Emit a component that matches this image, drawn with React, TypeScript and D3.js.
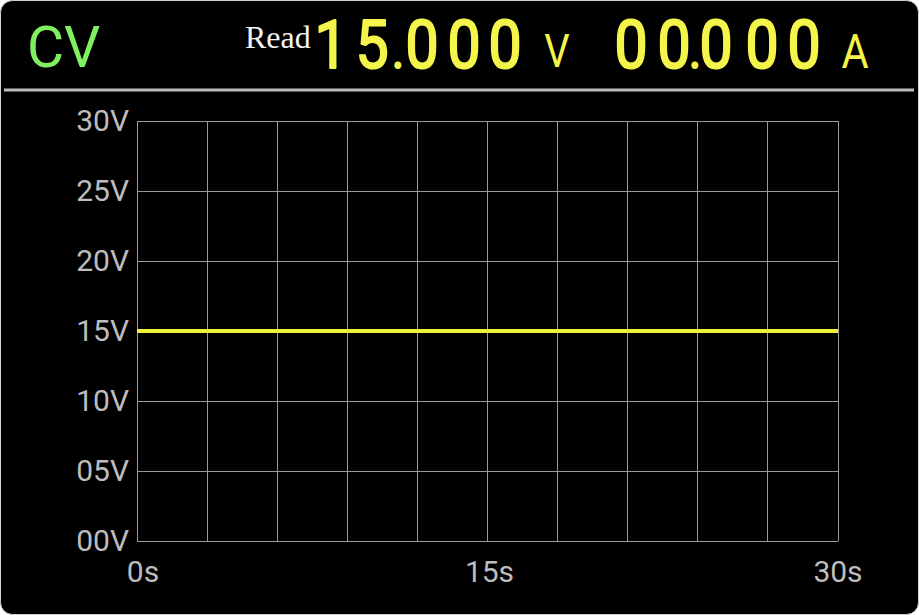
import { scaleLinear, line as d3Line } from "d3";

// readout header
const modeLabel = "CV";
const readLabel = "Read";
const readVoltage = "15.000";
const readCurrent = "00.000";

// trace samples (seconds, volts)
const sampleTimes = [0, 5, 10, 15, 20, 25, 30];
const sampleVolts = [15, 15, 15, 15, 15, 15, 15];

// axes
const xGridTicks = [0, 3, 6, 9, 12, 15, 18, 21, 24, 27, 30];
const xLabelTicks = [0, 15, 30];
const xTickLabels = ["0s", "15s", "30s"];
const yTicks = [0, 5, 10, 15, 20, 25, 30];
const yTickLabels = ["00V", "05V", "10V", "15V", "20V", "25V", "30V"];

const W = 919;
const H = 615;
const margin = { top: 121, right: 81, bottom: 74, left: 137 };

const gridColor = "#9a9a9a";
const labelColor = "#bdbdbd";
const yellow = "#f4f44a";
const traceColor = "#f0f03a";
const green = "#80f060";

// centres of each glyph of the segment readouts
const voltCentres = [331, 372, 398, 422, 464, 505];
const ampCentres = [631, 674, 695, 716, 762, 804];

function Readout({ value, centres }: { value: string; centres: number[] }) {
  const base = 69;
  return (
    <text
      fill={yellow}
      stroke={yellow}
      strokeWidth={1.8}
      strokeLinejoin="round"
      fontFamily="Roboto, sans-serif"
      fontSize={59}
      textAnchor="middle"
      y={base - 1}
      transform={`translate(0 ${base}) scale(1 1.13) translate(0 ${-base})`}
    >
      {value.split("").map((ch, i) => (
        <tspan key={i} x={centres[i]} fontSize={ch === "." ? 32 : undefined} fontWeight={ch === "." ? 700 : undefined}>
          {ch}
        </tspan>
      ))}
    </text>
  );
}

export default function App() {
  const x = scaleLinear().domain([0, 30]).range([margin.left, W - margin.right]);
  const y = scaleLinear().domain([0, 30]).range([H - margin.bottom, margin.top]);
  const trace = d3Line<number>()
    .x((_, i) => x(sampleTimes[i]))
    .y((d) => y(d));

  const [x0, x1] = x.range();
  const [y0, y1] = y.range();

  return (
    <svg
      width={W}
      height={H}
      viewBox={`0 0 ${W} ${H}`}
      style={{ position: "absolute", left: 0, top: 0, display: "block" }}
    >
      <rect width={W} height={H} fill="#fff" />
      <rect x={0.5} y={0.5} width={W - 1} height={H - 1} rx={12} fill="#000" stroke="#d0d0d0" strokeWidth={1} />

      {/* header */}
      <text x={27} y={67} fill={green} fontFamily="Roboto, sans-serif" fontSize={57}>
        {modeLabel}
      </text>
      <text x={245} y={48} fill="#f4f4f4" fontFamily="'Liberation Serif', serif" fontSize={32}>
        {readLabel}
      </text>
      <Readout value={readVoltage} centres={voltCentres} />
      <text
        x={557}
        y={67}
        fill={yellow}
        fontFamily="Roboto, sans-serif"
        fontSize={47}
        textAnchor="middle"
        transform="translate(557 0) scale(0.85 1) translate(-557 0)"
      >
        V
      </text>
      <Readout value={readCurrent} centres={ampCentres} />
      <text
        x={855}
        y={68}
        fill={yellow}
        fontFamily="Roboto, sans-serif"
        fontSize={49}
        textAnchor="middle"
        transform="translate(855 0) scale(0.85 1) translate(-855 0)"
      >
        A
      </text>
      <line x1={4} x2={914} y1={90} y2={90} stroke="#bcbcbc" strokeWidth={3} />

      {/* grid */}
      <g stroke={gridColor} strokeWidth={1} shapeRendering="crispEdges">
        {xGridTicks.map((t) => (
          <line key={`x${t}`} x1={x(t)} x2={x(t)} y1={y0} y2={y1} />
        ))}
        {yTicks.map((t) => (
          <line key={`y${t}`} x1={x0} x2={x1} y1={y(t)} y2={y(t)} />
        ))}
      </g>

      {/* y labels */}
      <g fill={labelColor} fontFamily="Roboto, sans-serif" fontSize={30} textAnchor="end">
        {yTicks.map((t, i) => (
          <text key={t} x={x0 - 8} y={y(t) + 10}>
            {yTickLabels[i]}
          </text>
        ))}
      </g>

      {/* x labels */}
      <g fill={labelColor} fontFamily="Roboto, sans-serif" fontSize={30} textAnchor="middle">
        {xLabelTicks.map((t, i) => (
          <text key={t} x={x(t) + (i === 0 ? 6 : i === 1 ? 2 : 0)} y={582}>
            {xTickLabels[i]}
          </text>
        ))}
      </g>

      <path d={trace(sampleVolts) ?? undefined} fill="none" stroke={traceColor} strokeWidth={4} />
    </svg>
  );
}
